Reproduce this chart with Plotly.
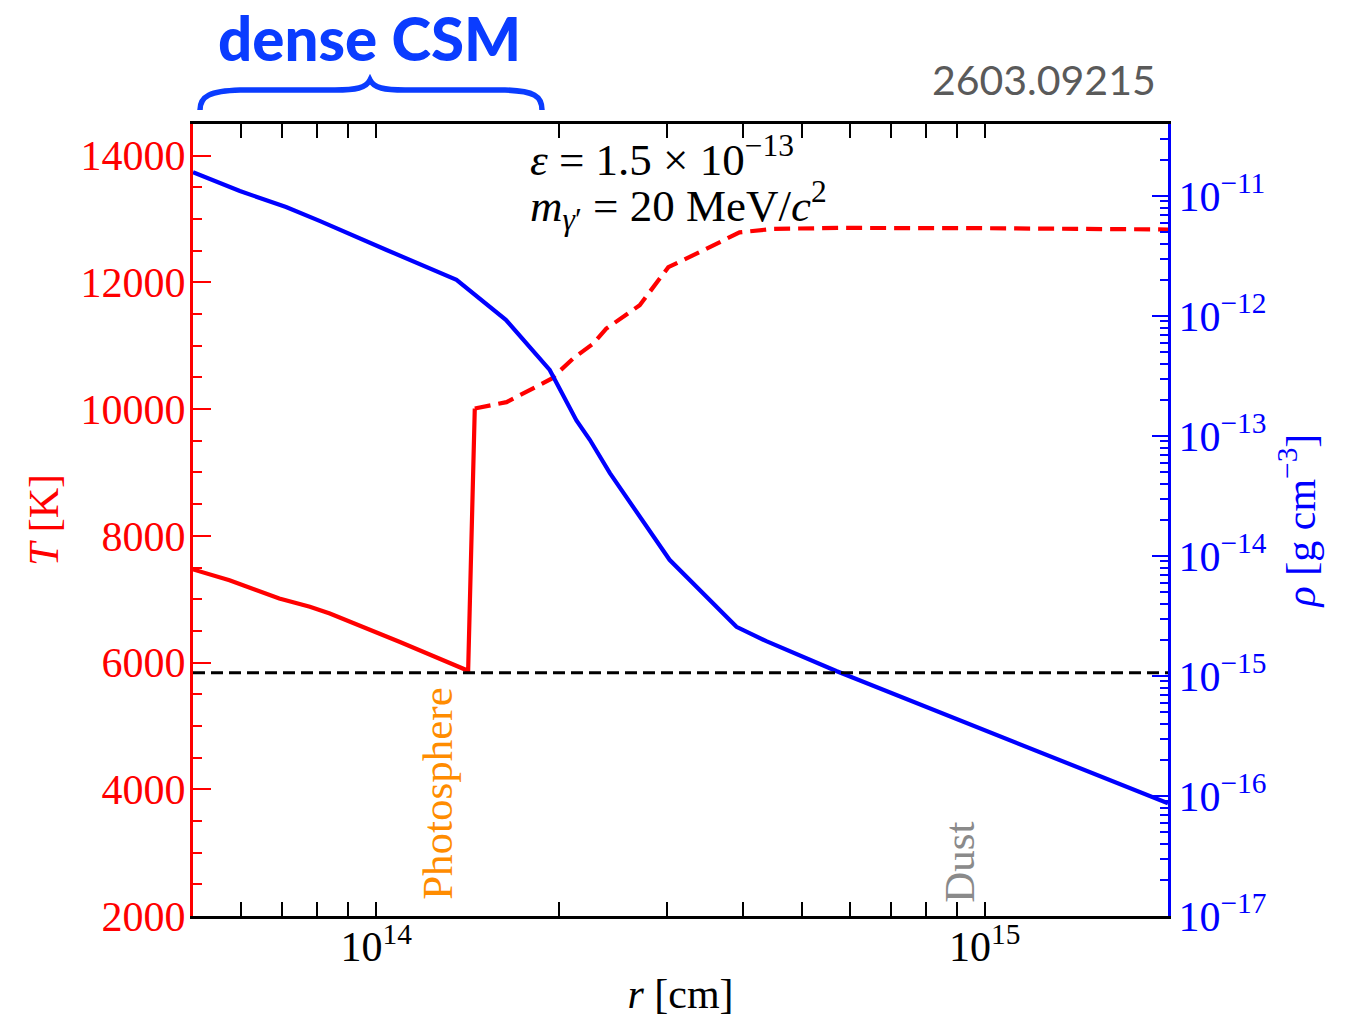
import numpy as np
import plotly.graph_objects as go

# ---------------- data ----------------
# Temperature inside the dense CSM (solid) up to and across the photosphere jump
r_T_inner = [5.00e13, 5.74e13, 6.93e13, 7.78e13, 8.39e13, 1.014e14, 1.094e14, 1.416e14, 1.452e14]
T_inner = [7470, 7300, 7010, 6880, 6775, 6460, 6325, 5870, 10010]

# Temperature outside the photosphere (dashed)
r_T_outer = [1.452e14, 1.637e14, 1.941e14, 2.104e14, 2.270e14, 2.388e14, 2.710e14, 2.851e14,
             3.020e14, 3.404e14, 3.954e14, 4.487e14, 5.781e14, 1.0e15, 2.0e15]
T_outer = [10010, 10110, 10480, 10795, 11030, 11270, 11640, 11925,
           12240, 12480, 12790, 12845, 12860, 12855, 12835]

# CSM density profile
r_rho = [5.0e13, 5.97e13, 7.11e13, 8.07e13, 1.040e14, 1.355e14, 1.633e14, 1.928e14,
         2.133e14, 2.244e14, 2.421e14, 2.710e14, 3.034e14, 3.908e14, 4.375e14, 5.70e14,
         7.24e14, 9.10e14, 1.0e15, 2.0e15]
rho = [1.58e-11, 1.10e-11, 8.1e-12, 6.2e-12, 3.55e-12, 2.0e-12, 9.3e-13, 3.55e-13,
       1.35e-13, 9.3e-14, 4.9e-14, 2.14e-14, 9.3e-15, 2.57e-15, 1.95e-15, 1.10e-15,
       6.8e-16, 4.3e-16, 3.5e-16, 8.7e-17]

R_PHOTOSPHERE = 1.425e14
R_DUST = 1.0e15
T_REF = 5840

R_RANGE = [5e13, 2e15]
T_RANGE = [2000, 14500]
RHO_RANGE = [1e-17, 10 ** -10.4]
T_TICKS = [2000, 4000, 6000, 8000, 10000, 12000, 14000]
R_DECADES = [14, 15]
RHO_DECADES = [-17, -16, -15, -14, -13, -12, -11]

# ---------------- styling ----------------
SERIF = "Liberation Serif"
SANS = "Lato"
RED = "#FF0000"
BLUE = "#0000FF"
ORANGE = "#FF8C00"
GREY = "#8A8A8A"
HEAD_BLUE = "#0A3CFF"

W, H = 1348, 1017
ML, MR, MT, MB = 193, 180, 124, 101
PW, PH = W - ML - MR, H - MT - MB


def paper(px, py):
    """Pixel position on the page -> paper coordinates."""
    return (px - ML) / PW, (H - MB - py) / PH


def log_minor(lo, hi):
    vals = []
    for e in range(int(np.floor(np.log10(lo))), int(np.ceil(np.log10(hi))) + 1):
        for k in range(2, 10):
            v = k * 10.0 ** e
            if lo <= v <= hi:
                vals.append(v)
    return vals


def power_labels(exps):
    return ["10<sup>%s</sup>" % (str(e).replace("-", "−")) for e in exps]


fig = go.Figure()

fig.add_trace(go.Scatter(x=r_rho, y=rho, mode="lines", yaxis="y2",
                         line=dict(color=BLUE, width=4.2), showlegend=False))
fig.add_trace(go.Scatter(x=r_T_inner, y=T_inner, mode="lines",
                         line=dict(color=RED, width=4.2), showlegend=False))
fig.add_trace(go.Scatter(x=r_T_outer, y=T_outer, mode="lines",
                         line=dict(color=RED, width=4.2, dash="16px,8px"), showlegend=False))

# reference lines
fig.add_shape(type="line", xref="x domain", yref="y", x0=0, x1=1, y0=T_REF, y1=T_REF,
              line=dict(color="black", width=3, dash="12px,6px"), layer="above")
fig.add_shape(type="line", xref="x", yref="y domain",
              x0=np.log10(R_PHOTOSPHERE), x1=np.log10(R_PHOTOSPHERE), y0=0, y1=1,
              line=dict(color=ORANGE, width=2.5, dash="10px,5px"), layer="above")
fig.add_shape(type="line", xref="x", yref="y domain",
              x0=np.log10(R_DUST), x1=np.log10(R_DUST), y0=0, y1=1,
              line=dict(color=GREY, width=2.5, dash="11px,5px"), layer="above")

# vertical labels next to the reference radii
fig.add_annotation(x=np.log10(R_PHOTOSPHERE), y=0, xref="x", yref="paper",
                   text="Photosphere", textangle=-90, showarrow=False,
                   xanchor="center", yanchor="middle", xshift=-33, yshift=123,
                   font=dict(family=SERIF, size=43, color=ORANGE))
fig.add_annotation(x=np.log10(R_DUST), y=0, xref="x", yref="paper",
                   text="Dust", textangle=-90, showarrow=False,
                   xanchor="center", yanchor="middle", xshift=-26, yshift=54,
                   font=dict(family=SERIF, size=43, color=GREY))

# model parameters
px0, py0 = paper(528, 156)
fig.add_annotation(x=px0, y=py0, xref="paper", yref="paper", showarrow=False,
                   xanchor="left", yanchor="middle",
                   text="<i>ε</i> = 1.5 × 10<sup>−13</sup>",
                   font=dict(family=SERIF, size=45, color="black"))
px1, py1 = paper(528, 206)
fig.add_annotation(x=px1, y=py1, xref="paper", yref="paper", showarrow=False,
                   xanchor="left", yanchor="middle",
                   text="<i>m</i><sub><i>γ</i>′</sub> = 20 MeV/<i>c</i><sup>2</sup>",
                   font=dict(family=SERIF, size=45, color="black"))

# header texts
hx, hy = paper(369, 38)
fig.add_annotation(x=hx, y=hy, xref="paper", yref="paper", showarrow=False,
                   xanchor="center", yanchor="middle", text="dense CSM",
                   font=dict(family=SANS, size=60, color=HEAD_BLUE, weight=900))
ax, ay = paper(1158, 80)
fig.add_annotation(x=ax, y=ay, xref="paper", yref="paper", showarrow=False,
                   xanchor="right", yanchor="middle", text="2603.09215",
                   font=dict(family=SANS, size=41, color="#5A5A5A", weight=400))

# curly brace above the dense-CSM region
brace_pts = [
    ("M", [(200, 110)]),
    ("C", [(200, 96), (210, 91), (240, 90)]),
    ("L", [(335, 90)]),
    ("C", [(356, 90), (366, 88), (370, 80)]),
    ("C", [(374, 88), (384, 90), (405, 90)]),
    ("L", [(505, 90)]),
    ("C", [(534, 91), (542, 96), (542, 110)]),
]
path = ""
for cmd, pts in brace_pts:
    path += cmd + " " + " ".join("%.5f,%.5f" % paper(*p) for p in pts) + " "
fig.add_shape(type="path", xref="paper", yref="paper", path=path.strip(),
              line=dict(color=HEAD_BLUE, width=5.5))

fig.update_layout(
    width=W, height=H,
    margin=dict(l=ML, r=MR, t=MT, b=MB, autoexpand=False),
    plot_bgcolor="white", paper_bgcolor="white",
    showlegend=False,
    xaxis=dict(
        type="log", range=[np.log10(R_RANGE[0]), np.log10(R_RANGE[1])],
        tickvals=[10.0 ** e for e in R_DECADES], ticktext=power_labels(R_DECADES),
        showgrid=False, zeroline=False,
        showline=True, linecolor="black", linewidth=3, mirror="allticks",
        ticks="inside", ticklen=14, tickwidth=2, tickcolor="black",
        ticklabelstandoff=-8,
        tickfont=dict(family=SERIF, size=42, color="black"),
        minor=dict(ticks="inside", ticklen=8, tickwidth=1.5, tickcolor="black",
                   tickvals=log_minor(*R_RANGE), showgrid=False),
        title=dict(text="<i>r</i> [cm]", standoff=20,
                   font=dict(family=SERIF, size=42, color="black")),
    ),
    yaxis=dict(
        range=T_RANGE, tickvals=T_TICKS, tickformat="d",
        showgrid=False, zeroline=False,
        showline=True, linecolor=RED, linewidth=3,
        ticks="inside", ticklen=18, tickwidth=2, tickcolor=RED,
        ticklabelstandoff=-4,
        tickfont=dict(family=SERIF, size=42, color=RED),
        minor=dict(ticks="inside", ticklen=9, tickwidth=1.5, tickcolor=RED,
                   dtick=500, tick0=0, showgrid=False),
        title=dict(text="<i>T</i> [K]", standoff=9,
                   font=dict(family=SERIF, size=42, color=RED)),
    ),
    yaxis2=dict(
        type="log", overlaying="y", side="right",
        range=[np.log10(RHO_RANGE[0]), np.log10(RHO_RANGE[1])],
        tickvals=[10.0 ** e for e in RHO_DECADES], ticktext=power_labels(RHO_DECADES),
        showgrid=False, zeroline=False,
        showline=True, linecolor=BLUE, linewidth=3,
        ticks="inside", ticklen=16, tickwidth=2, tickcolor=BLUE,
        ticklabelstandoff=-1,
        tickfont=dict(family=SERIF, size=42, color=BLUE),
        minor=dict(ticks="inside", ticklen=8, tickwidth=1.5, tickcolor=BLUE,
                   tickvals=log_minor(*RHO_RANGE), showgrid=False),
        title=dict(text="<i>ρ</i> [g cm<sup>−3</sup>]", standoff=20,
                   font=dict(family=SERIF, size=42, color=BLUE)),
    ),
)

fig.write_html("out.html")
